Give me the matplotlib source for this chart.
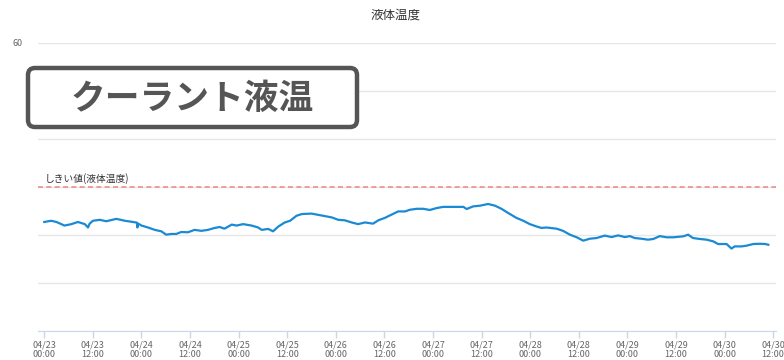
import matplotlib
matplotlib.use("Agg")
import matplotlib.pyplot as plt
import matplotlib.dates as mdates
import matplotlib.transforms as mtransforms
from matplotlib.patches import FancyBboxPatch
import numpy as np
import pandas as pd

plt.rcParams['font.family'] = ['Noto Sans CJK JP', 'DejaVu Sans']

START = pd.Timestamp("2021-04-23 00:00")

# hours since 04/23 00:00
HOURS = [
    0.0, 1.7, 3.0, 5.0, 6.7, 8.3, 10.0, 10.8, 11.2, 12.0, 13.7, 15.3, 17.8,
    19.9, 21.9, 22.9, 23.0, 23.2, 24.0, 25.6, 27.3, 28.9, 30.1, 31.4, 32.6,
    33.8, 35.5, 37.1, 38.8, 40.4, 42.1, 43.3, 44.5, 46.3, 47.5, 49.1, 51.2,
    52.8, 53.7, 55.3, 56.5, 57.8, 59.4, 60.7, 62.3, 63.6, 66.0, 68.5, 71.0,
    72.6, 74.2, 75.9, 77.5, 79.2, 81.2, 82.5, 84.1, 85.8, 87.4, 89.1, 90.3,
    92.0, 93.6, 95.2, 96.9, 98.5, 101.0, 103.5, 104.3, 105.9, 107.6, 109.6,
    111.3, 112.9, 114.6, 116.6, 118.3, 119.9, 121.6, 122.8, 124.0, 126.5,
    128.1, 129.8, 131.5, 133.1, 134.7, 136.4, 138.4, 140.1, 141.7, 143.4,
    144.6, 145.8, 147.5, 149.1, 150.4, 152.0, 153.7, 155.3, 157.8, 159.0,
    160.2, 161.9, 163.6, 165.2, 166.4, 168.5, 169.7, 170.5, 172.2, 173.4,
    175.1, 176.7, 178.0, 178.8,
]

TEMPS = [
    22.65, 22.9, 22.65, 21.9, 22.2, 22.65, 22.2, 21.5, 22.3, 22.9, 23.1, 22.8,
    23.3, 22.9, 22.65, 22.5, 21.5, 22.3, 21.9, 21.5, 21.0, 20.7, 20.0, 20.15,
    20.15, 20.55, 20.5, 21.0, 20.8, 21.0, 21.4, 21.6, 21.25, 22.1, 21.9, 22.2,
    21.9, 21.5, 21.0, 21.2, 20.7, 21.7, 22.55, 22.9, 23.95, 24.3, 24.4, 24.0,
    23.6, 23.1, 23.0, 22.55, 22.2, 22.55, 22.3, 23.0, 23.5, 24.2, 24.85, 24.85,
    25.2, 25.4, 25.4, 25.15, 25.55, 25.8, 25.8, 25.8, 25.35, 25.9, 26.05,
    26.4, 26.05, 25.4, 24.5, 23.5, 22.9, 22.2, 21.7, 21.4, 21.5, 21.25, 20.8,
    20.0, 19.45, 18.75, 19.15, 19.3, 19.8, 19.5, 19.85, 19.5, 19.7, 19.3,
    19.15, 18.95, 19.1, 19.7, 19.45, 19.45, 19.65, 20.0, 19.3, 19.1, 18.95,
    18.6, 18.05, 18.05, 17.1, 17.55, 17.55, 17.7, 18.05, 18.1, 18.05, 17.9,
]

THRESHOLD = 30
THRESHOLD_LABEL = "しきい値(液体温度)"
TITLE = "液体温度"
BADGE = "クーラント液温"


def main() -> None:
    times = START + pd.to_timedelta(HOURS, unit="h")

    fig = plt.figure(figsize=(7.84, 3.6), dpi=100)
    ax = fig.add_axes([38 / 784, 1 - 330.5 / 360, 738 / 784, 287.5 / 360])

    ax.plot(times, TEMPS, color="#1a8ad4", lw=1.6, solid_joinstyle="round")
    ax.axhline(THRESHOLD, color="#f08c8c", lw=1.2, ls=(0, (3, 2)))
    ax.text(START + pd.Timedelta(hours=0.2), THRESHOLD + 0.6, THRESHOLD_LABEL,
            fontsize=7, color="#333333", ha="left", va="bottom")

    ax.set_xlim(START - pd.Timedelta(hours=1.55), START + pd.Timedelta(hours=180.7))
    ax.set_ylim(0, 60)

    ticks = [START + pd.Timedelta(hours=12 * i) for i in range(16)]
    ax.set_xticks(ticks)
    ax.xaxis.set_major_formatter(mdates.DateFormatter("%m/%d\n%H:%M"))
    ax.tick_params(axis="x", colors="#ccd6eb", labelcolor="#666666",
                   labelsize=6.5, length=5, width=1, pad=2)
    for lbl in ax.get_xticklabels():
        lbl.set_linespacing(1.05)

    ax.set_yticks(np.arange(0, 61, 10))
    ax.set_yticklabels(["", "", "", "", "", "", "60"])
    ax.tick_params(axis="y", length=0, labelsize=6.5, labelcolor="#666666", pad=11)
    ax.grid(axis="y", color="#e6e6e6", lw=1)
    ax.set_axisbelow(True)

    for side in ["top", "right", "left"]:
        ax.spines[side].set_visible(False)
    ax.spines["bottom"].set_color("#ccd6eb")

    fig.text(0.505, 1 - 15 / 360, TITLE, ha="center", va="center",
             fontsize=9, color="#333333")

    # badge in the upper left
    box = FancyBboxPatch((28, 360 - 127), 329, 59,
                         boxstyle="round,pad=0,rounding_size=7",
                         transform=mtransforms.IdentityTransform(),
                         facecolor="white", edgecolor="#555555", lw=3.2)
    fig.patches.append(box)
    fig.text(192 / 784, 1 - 98 / 360, BADGE, ha="center", va="center",
             fontsize=25, fontweight="bold", color="#555555")

    fig.savefig("out.png", dpi=100)


if __name__ == '__main__':
    main()
